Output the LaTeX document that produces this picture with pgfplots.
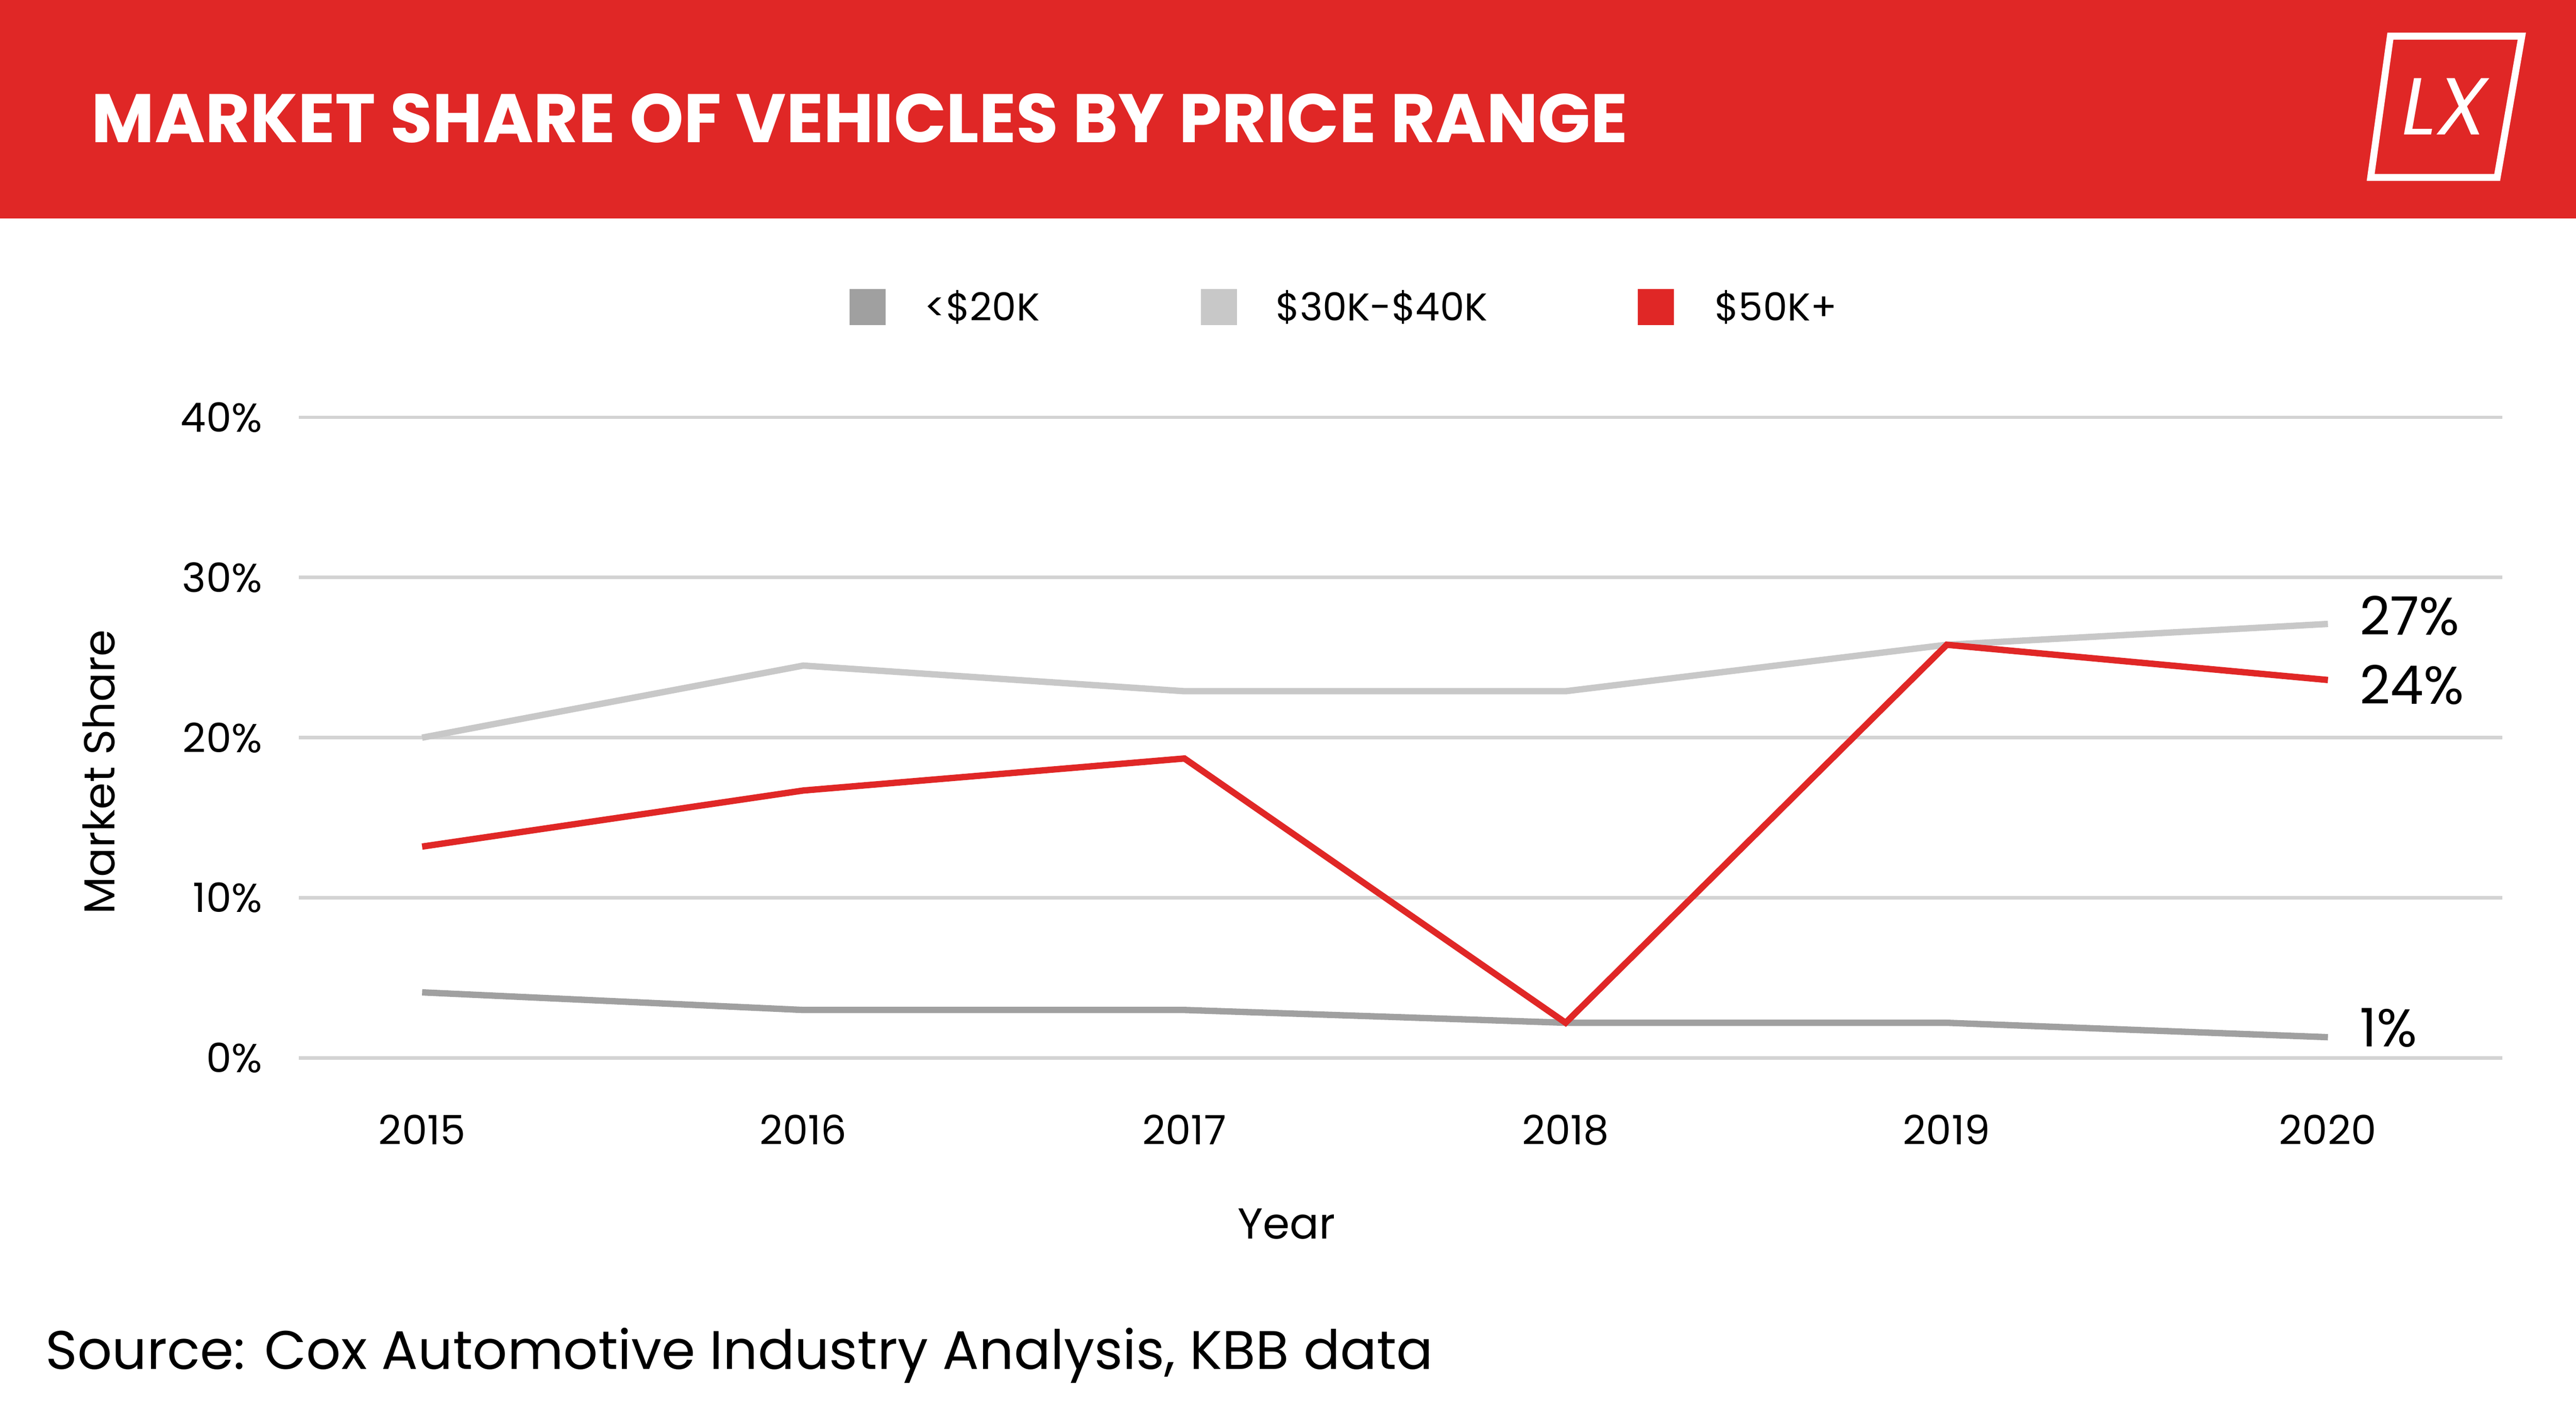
\documentclass[border=0pt]{standalone}
\usepackage{pgfplots}
\pgfplotsset{compat=1.18}
\usepackage{fontspec}
\setmainfont{Poppins}
\definecolor{lxred}{HTML}{E02726}
\definecolor{dgray}{HTML}{A0A0A0}
\definecolor{lgray}{HTML}{C8C8C8}
\begin{document}
\begin{tikzpicture}[x=1cm,y=1cm]
\fill[white] (0,0) rectangle (15.68,8.55);
\fill[lxred] (0,7.22) rectangle (15.68,8.55);
\node[anchor=west,text=white,font=\bfseries\fontsize{11.9}{14}\selectfont,inner sep=0] at (0.55,7.83) {MARKET SHARE OF VEHICLES BY PRICE RANGE};
\draw[white,line width=1.2pt] (14.55,8.33) -- (15.35,8.33) -- (15.20,7.47) -- (14.43,7.47) -- cycle;
\node[text=white,font=\itshape\fontsize{14}{16}\selectfont] at (14.88,7.90) {LX};
% legend
\fill[dgray] (5.17,6.57) rectangle (5.39,6.79);
\node[anchor=west,font=\fontsize{6.7}{8}\selectfont,inner sep=0] at (5.62,6.68) {<\$20K};
\fill[lgray] (7.31,6.57) rectangle (7.53,6.79);
\node[anchor=west,font=\fontsize{6.7}{8}\selectfont,inner sep=0] at (7.76,6.68) {\$30K-\$40K};
\fill[lxred] (9.97,6.57) rectangle (10.19,6.79);
\node[anchor=west,font=\fontsize{6.7}{8}\selectfont,inner sep=0] at (10.43,6.68) {\$50K+};
\begin{axis}[at={(1.82cm,2.11cm)},anchor=south west,scale only axis,
 width=13.41cm,height=3.9cm,xmin=2014.677,xmax=2020.457,ymin=0,ymax=40,
 axis line style={draw=none},major tick length=0pt,
 ymajorgrids,grid style={lgray!80,line width=0.6pt},
 ytick={0,10,20,30,40},yticklabel={\pgfmathprintnumber{\tick}\%},
 xtick={2015,...,2020},xticklabel style={/pgf/number format/1000 sep={}},
 /pgf/number format/assume math mode=true,
 ticklabel style={font=\fontsize{7}{8}\selectfont},
 yticklabel style={xshift=-0.1cm},xticklabel style={yshift=-0.22cm},
 clip=false]
\addplot[lgray,line width=1.1pt] coordinates {(2015,20) (2016,24.5) (2017,22.9) (2018,22.9) (2019,25.8) (2020,27.1)};
\addplot[dgray,line width=1.1pt] coordinates {(2015,4.1) (2016,3.0) (2017,3.0) (2018,2.2) (2019,2.2) (2020,1.3)};
\addplot[lxred,line width=1.1pt] coordinates {(2015,13.2) (2016,16.7) (2017,18.7) (2018,2.2) (2019,25.8) (2020,23.6)};
\node[anchor=west,font=\fontsize{9.2}{11}\selectfont] at (axis cs:2020.03,27.6) {27\%};
\node[anchor=west,font=\fontsize{9.2}{11}\selectfont] at (axis cs:2020.03,23.3) {24\%};
\node[anchor=west,font=\fontsize{9.2}{11}\selectfont] at (axis cs:2020.03,1.9) {1\%};
\end{axis}
\node[font=\fontsize{7.5}{9}\selectfont] at (7.83,1.10) {Year};
\node[rotate=90,font=\fontsize{7.5}{9}\selectfont] at (0.60,3.85) {Market Share};
\node[anchor=west,font=\fontsize{9.4}{12}\selectfont,inner sep=0] at (0.27,0.30) {Source: Cox Automotive Industry Analysis, KBB data};
\end{tikzpicture}
\end{document}
